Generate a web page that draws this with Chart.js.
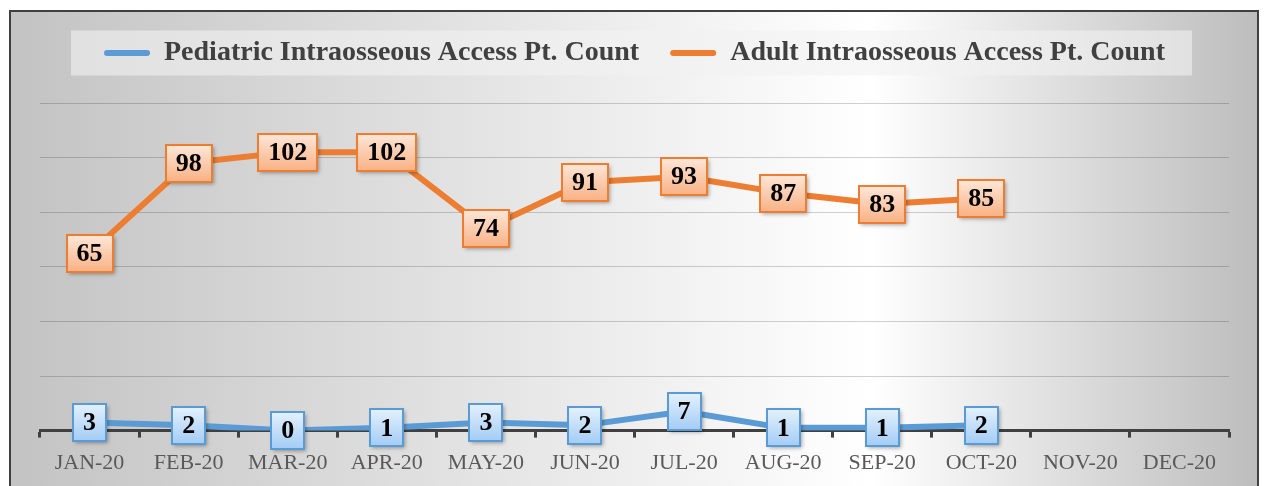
<!DOCTYPE html>
<html>
<head>
<meta charset="utf-8">
<script src="https://cdn.jsdelivr.net/npm/chart.js@4.4.1/dist/chart.umd.min.js"></script>
<style>
html,body{margin:0;padding:0;background:#fff;overflow:hidden}
#wrap{width:1270px;height:486px;position:relative}
canvas{display:block}
</style>
</head>
<body>
<div id="wrap"><canvas id="c" width="1270" height="486"></canvas></div>
<script>
// ---- data ----
const months = ['JAN-20','FEB-20','MAR-20','APR-20','MAY-20','JUN-20','JUL-20','AUG-20','SEP-20','OCT-20','NOV-20','DEC-20'];
const pediatricCounts = [3, 2, 0, 1, 3, 2, 7, 1, 1, 2, null, null];
const adultCounts = [65, 98, 102, 102, 74, 91, 93, 87, 83, 85, null, null];
const seriesNames = ['Pediatric Intraosseous Access Pt. Count', 'Adult Intraosseous Access Pt. Count'];
const yMin = 0, yMax = 120, yStep = 20;

const FONT = '"Liberation Serif", "Times New Roman", serif';
const BLUE = '#5B9BD5', ORANGE = '#ED7D31';

const labelStyles = [
  {top: '#e4f1fe', bottom: '#a3ccf5', border: BLUE},
  {top: '#fee7d8', bottom: '#f9b184', border: ORANGE}
];

const bgPlugin = {
  id: 'bg',
  beforeDraw(chart) {
    const ctx = chart.ctx, W = chart.width, H = chart.height;
    ctx.save();
    ctx.fillStyle = '#ffffff';
    ctx.fillRect(0, 0, W, H);
    const g = ctx.createLinearGradient(11, 0, 1257, 0);
    g.addColorStop(0, '#c3c3c3');
    g.addColorStop(0.69, '#ffffff');
    g.addColorStop(1, '#bdbdbd');
    ctx.fillStyle = g;
    ctx.fillRect(11, 12, 1246, H);
    ctx.strokeStyle = '#404040';
    ctx.lineWidth = 2;
    ctx.strokeRect(10, 11, 1248, H + 20);
    const lg = chart.legend;
    if (lg && lg.legendHitBoxes && lg.legendHitBoxes.length) {
      const hb = lg.legendHitBoxes, first = hb[0], last = hb[hb.length - 1];
      const cy = first.top + first.height / 2;
      ctx.fillStyle = 'rgba(242,242,242,0.6)';
      ctx.fillRect(first.left - 33, cy - 22.5, (last.left + last.width) - first.left + 60, 45);
    }
    ctx.restore();
  }
};

const legendSpace = {
  id: 'legendSpace',
  beforeInit(chart) {
    const orig = chart.legend.fit;
    chart.legend.fit = function () {
      orig.bind(chart.legend)();
      this.height += 26;
    };
  }
};

const boxLabels = {
  id: 'boxLabels',
  afterDatasetsDraw(chart) {
    const ctx = chart.ctx;
    ctx.save();
    ctx.font = 'bold 26px ' + FONT;
    ctx.textAlign = 'center';
    ctx.textBaseline = 'middle';
    chart.data.datasets.forEach((ds, di) => {
      const meta = chart.getDatasetMeta(di);
      const st = labelStyles[di];
      meta.data.forEach((pt, i) => {
        const v = ds.data[i];
        if (v === null || v === undefined) return;
        const txt = String(v);
        const w = Math.round(ctx.measureText(txt).width + 20), h = 37;
        const x = Math.round(pt.x - w / 2), y = Math.round(pt.y - h / 2);
        const g = ctx.createLinearGradient(0, y, 0, y + h);
        g.addColorStop(0, st.top);
        g.addColorStop(1, st.bottom);
        ctx.save();
        ctx.shadowColor = 'rgba(0,0,0,0.35)';
        ctx.shadowBlur = 4;
        ctx.shadowOffsetX = 2;
        ctx.shadowOffsetY = 2;
        ctx.fillStyle = g;
        ctx.fillRect(x, y, w, h);
        ctx.restore();
        ctx.strokeStyle = st.border;
        ctx.lineWidth = 2;
        ctx.strokeRect(x, y, w, h);
        ctx.fillStyle = '#000000';
        ctx.fillText(txt, pt.x, pt.y + 1);
      });
    });
    ctx.restore();
  }
};

new Chart(document.getElementById('c'), {
  type: 'line',
  data: {
    labels: months,
    datasets: [
      {label: seriesNames[0], data: pediatricCounts, borderColor: BLUE, backgroundColor: BLUE,
       borderWidth: 6, pointRadius: 0, pointHoverRadius: 0, tension: 0,
       borderJoinStyle: 'round', borderCapStyle: 'round', spanGaps: false},
      {label: seriesNames[1], data: adultCounts, borderColor: ORANGE, backgroundColor: ORANGE,
       borderWidth: 6, pointRadius: 0, pointHoverRadius: 0, tension: 0,
       borderJoinStyle: 'round', borderCapStyle: 'round', spanGaps: false}
    ]
  },
  options: {
    responsive: false,
    animation: false,
    events: [],
    layout: {padding: {left: 40, right: 41, top: 8, bottom: -2}},
    plugins: {
      tooltip: {enabled: false},
      legend: {
        display: true,
        position: 'top',
        labels: {
          boxWidth: 46,
          boxHeight: 6,
          padding: 31,
          color: '#404040',
          font: {family: FONT, size: 28, weight: 'bold'},
          useBorderRadius: true,
          borderRadius: 3,
          generateLabels(chart) {
            return chart.data.datasets.map((ds, i) => ({
              text: ds.label,
              fillStyle: ds.borderColor,
              strokeStyle: ds.borderColor,
              lineWidth: 0,
              hidden: false,
              datasetIndex: i,
              borderRadius: 3,
              fontColor: '#404040'
            }));
          }
        }
      }
    },
    scales: {
      x: {
        type: 'category',
        offset: true,
        grid: {display: true, drawOnChartArea: false, drawTicks: true, offset: true,
               tickLength: 7, tickWidth: 3, tickColor: '#404040'},
        border: {display: true, color: '#404040', width: 3},
        ticks: {color: '#595959', font: {family: FONT, size: 22}, padding: 12, maxRotation: 0, autoSkip: false}
      },
      y: {
        min: yMin, max: yMax,
        ticks: {display: false, stepSize: yStep},
        grid: {color: 'rgba(0,0,0,0.18)', lineWidth: 1, drawTicks: false},
        border: {display: false}
      }
    }
  },
  plugins: [legendSpace, bgPlugin, boxLabels]
});
</script>
</body>
</html>
